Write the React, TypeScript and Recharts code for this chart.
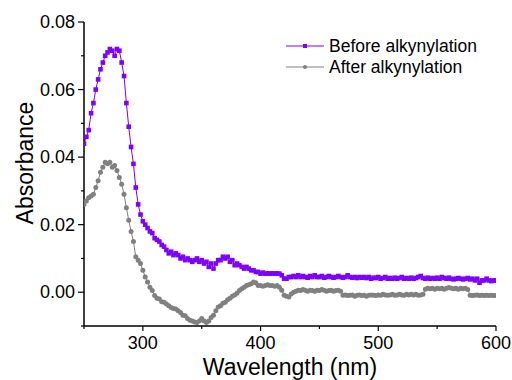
import { LineChart, Line, XAxis, YAxis, Legend, Label } from 'recharts';

// sampling grid of the spectra (nm)
const START_NM = 250;
const STEP_NM = 2;

// absorbance before alkynylation, 250..600 nm every 2 nm
const beforeAlkynylation = [
  0.044, 0.046, 0.048, 0.053, 0.056, 0.06, 0.063, 0.066, 0.068, 0.07,
  0.071, 0.072, 0.0715, 0.07, 0.072, 0.0715, 0.068, 0.064, 0.056, 0.049,
  0.043, 0.038, 0.031, 0.026, 0.023, 0.021, 0.02, 0.019, 0.018, 0.0175,
  0.016, 0.0155, 0.015, 0.014, 0.0135, 0.0125, 0.0115, 0.012, 0.011, 0.0115,
  0.011, 0.01, 0.0105, 0.0095, 0.01, 0.0095, 0.009, 0.0095, 0.01, 0.009,
  0.0095, 0.0085, 0.009, 0.0075, 0.0085, 0.007, 0.0085, 0.0095, 0.0095, 0.0105,
  0.01, 0.0105, 0.009, 0.0095, 0.008, 0.0085, 0.008, 0.0075, 0.007, 0.0075,
  0.007, 0.0065, 0.0065, 0.006, 0.006, 0.0055, 0.0058, 0.0055, 0.0056, 0.0055,
  0.0056, 0.0055, 0.0056, 0.0055, 0.005, 0.004, 0.004, 0.0045, 0.0045, 0.0048,
  0.0045, 0.005, 0.0045, 0.0048, 0.0045, 0.0043, 0.0048, 0.0045, 0.005, 0.0045,
  0.0045, 0.0048, 0.0043, 0.0045, 0.0048, 0.0045, 0.0043, 0.0045, 0.0048, 0.0045,
  0.0043, 0.0045, 0.005, 0.0045, 0.0043, 0.0045, 0.0042, 0.0045, 0.0043, 0.0045,
  0.0042, 0.0045, 0.004, 0.0043, 0.0042, 0.0045, 0.004, 0.0042, 0.0045, 0.004,
  0.0042, 0.004, 0.0043, 0.004, 0.0042, 0.0045, 0.004, 0.0042, 0.004, 0.0043,
  0.004, 0.0042, 0.0045, 0.0048, 0.0042, 0.004, 0.0043, 0.004, 0.0042, 0.004,
  0.0043, 0.004, 0.0045, 0.0042, 0.004, 0.0043, 0.004, 0.0038, 0.004, 0.0042,
  0.004, 0.0038, 0.004, 0.0042, 0.0038, 0.004, 0.0035, 0.004, 0.0028, 0.0035,
  0.0035, 0.004, 0.0035, 0.0033, 0.0035, 0.0035,
];

// absorbance after alkynylation, same grid
const afterAlkynylation = [
  0.026, 0.027, 0.028, 0.0285, 0.029, 0.031, 0.033, 0.0355, 0.037, 0.0385,
  0.038, 0.0385, 0.037, 0.0375, 0.036, 0.034, 0.032, 0.029, 0.025, 0.0213,
  0.018, 0.015, 0.0105, 0.0095, 0.0085, 0.0065, 0.0045, 0.003, 0.0015, 0.0005,
  -0.001, -0.0018, -0.002, -0.0028, -0.003, -0.0035, -0.004, -0.0045, -0.0048, -0.005,
  -0.0055, -0.006, -0.0068, -0.007, -0.0078, -0.0083, -0.0085, -0.0088, -0.009, -0.0085,
  -0.0078, -0.0085, -0.009, -0.0085, -0.0075, -0.0068, -0.0055, -0.0044, -0.004, -0.0033,
  -0.003, -0.0022, -0.0018, -0.0012, -0.0008, -0.0003, 0.0005, 0.001, 0.0015, 0.002,
  0.0022, 0.0025, 0.003, 0.0028, 0.002, 0.002, 0.0018, 0.002, 0.0022, 0.002,
  0.002, 0.0018, 0.002, 0.0015, 0.0006, -0.0009, -0.0012, -0.0014, -0.0005, 0,
  0.0003, 0.0006, 0.0005, 0.0008, 0.0006, 0.0003, 0.0006, 0.0005, 0.0003, 0.0006,
  0.0005, 0.0008, 0.0006, 0.0003, 0.0005, 0.0006, 0.0003, 0.0005, 0.0006, 0.0003,
  -0.0009, -0.0008, -0.001, -0.0009, -0.0008, -0.0012, -0.0009, -0.0008, -0.001, -0.0009,
  -0.0012, -0.0009, -0.0008, -0.0009, -0.001, -0.0008, -0.0009, -0.0006, -0.0008, -0.0009,
  -0.0008, -0.0006, -0.0009, -0.0008, -0.0006, -0.0008, -0.0009, -0.0006, -0.0008, -0.0006,
  -0.0008, -0.0006, -0.0009, -0.0008, -0.0006, 0.0009, 0.0012, 0.001, 0.0012, 0.0009,
  0.0012, 0.001, 0.0012, 0.0009, 0.0012, 0.0014, 0.0012, 0.001, 0.0012, 0.0009,
  0.0012, 0.001, 0.0012, 0.0008, -0.0009, -0.001, -0.0009, -0.0008, -0.001, -0.0009,
  -0.001, -0.0009, -0.001, -0.0009, -0.001, -0.001,
];

const wavelengths = beforeAlkynylation.map((_, i) => START_NM + STEP_NM * i);

const xTicks = [250, 300, 350, 400, 450, 500, 550, 600];
const yTicks = [-0.01, 0, 0.01, 0.02, 0.03, 0.04, 0.05, 0.06, 0.07, 0.08];

const seriesNames = ['Before alkynylation', 'After alkynylation'];

const data = wavelengths.map((nm, i) => ({
  nm,
  before: beforeAlkynylation[i],
  after: afterAlkynylation[i],
}));

const PURPLE = '#7f00ff';
const GRAY = '#808080';
const FONT = '"Liberation Sans", Arial, sans-serif';

const isMajorX = (v: number) => v % 100 === 0;
const isMajorY = (v: number) => Math.round(v * 100) % 2 === 0;

function BottomTick({ x, y, payload }: any) {
  const major = isMajorX(payload.value);
  return (
    <g>
      <line x1={x} y1={y} x2={x} y2={y + (major ? 5 : 3)} stroke="#000" strokeWidth={1.2} />
      {major && (
        <text x={x} y={y + 23} textAnchor="middle" fontSize={18} fontFamily={FONT} fill="#000">
          {payload.value}
        </text>
      )}
    </g>
  );
}

function LeftTick({ x, y, payload }: any) {
  const major = isMajorY(payload.value);
  return (
    <g>
      <line x1={x - (major ? 6 : 3)} y1={y} x2={x} y2={y} stroke="#000" strokeWidth={1.2} />
      {major && (
        <text x={x - 9} y={y + 6} textAnchor="end" fontSize={18} fontFamily={FONT} fill="#000">
          {payload.value.toFixed(2)}
        </text>
      )}
    </g>
  );
}

function TopTick({ x, y }: any) {
  return <line x1={x} y1={y} x2={x} y2={y + 3} stroke="#000" strokeWidth={1.2} />;
}

function RightTick({ x, y }: any) {
  return <line x1={x - 3} y1={y} x2={x} y2={y} stroke="#000" strokeWidth={1.2} />;
}

const renderSquare = (p: any) => (
  <rect key={`b-${p.index}`} x={p.cx - 2.3} y={p.cy - 2.3} width={4.6} height={4.6} fill={PURPLE} />
);

const renderCircle = (p: any) => (
  <circle key={`a-${p.index}`} cx={p.cx} cy={p.cy} r={2.5} fill={GRAY} />
);

function YTitle({ viewBox }: any) {
  const cx = viewBox.x + 33;
  const cy = 163;
  return (
    <text
      x={cx}
      y={cy}
      transform={`rotate(-90, ${cx}, ${cy})`}
      textAnchor="middle"
      fontSize={23}
      fontFamily={FONT}
      fill="#000"
    >
      Absorbance
    </text>
  );
}

function XTitle({ viewBox }: any) {
  return (
    <text
      x={viewBox.x + viewBox.width / 2}
      y={viewBox.y + 49}
      textAnchor="middle"
      fontSize={23}
      fontFamily={FONT}
      fill="#000"
    >
      Wavelength (nm)
    </text>
  );
}

function ChartLegend() {
  const rows = [
    { name: seriesNames[0], color: PURPLE, square: true },
    { name: seriesNames[1], color: GRAY, square: false },
  ];
  return (
    <svg width={200} height={50}>
      {rows.map((r, i) => {
        const cy = 16 + i * 21;
        return (
          <g key={r.name}>
            <line x1={6} y1={cy} x2={44} y2={cy} stroke={r.color} strokeWidth={1} />
            {r.square ? (
              <rect x={23} y={cy - 2} width={4} height={4} fill={r.color} />
            ) : (
              <circle cx={25} cy={cy} r={2.1} fill={r.color} />
            )}
            <text x={49} y={cy + 6} fontSize={17.5} fontFamily={FONT} fill="#000">
              {r.name}
            </text>
          </g>
        );
      })}
    </svg>
  );
}

export default function App() {
  return (
    <div style={{ position: 'absolute', left: 0, top: 0, width: 512, height: 380, background: '#fff' }}>
      <LineChart width={512} height={380} data={data} margin={{ top: 22, right: 16, bottom: 0, left: 0 }}>
        <XAxis
          dataKey="nm"
          type="number"
          domain={[250, 600]}
          ticks={xTicks}
          height={54}
          tickSize={0}
          tickMargin={0}
          tickLine={false}
          tick={<BottomTick />}
          axisLine={{ stroke: '#000', strokeWidth: 1.5 }}
          interval={0}
          allowDataOverflow
        >
          <Label content={<XTitle />} />
        </XAxis>
        <XAxis
          xAxisId="top"
          orientation="top"
          dataKey="nm"
          type="number"
          domain={[250, 600]}
          ticks={xTicks}
          height={0}
          tickSize={0}
          tickMargin={0}
          tickLine={false}
          tick={<TopTick />}
          axisLine={{ stroke: '#000', strokeWidth: 1.5 }}
          interval={0}
          allowDataOverflow
        />
        <YAxis
          type="number"
          domain={[-0.01, 0.08]}
          ticks={yTicks}
          width={84}
          tickSize={0}
          tickMargin={0}
          tickLine={false}
          tick={<LeftTick />}
          axisLine={{ stroke: '#000', strokeWidth: 1.5 }}
          interval={0}
          allowDataOverflow
        >
          <Label content={<YTitle />} />
        </YAxis>
        <YAxis
          yAxisId="right"
          orientation="right"
          type="number"
          domain={[-0.01, 0.08]}
          ticks={yTicks}
          width={0}
          tickSize={0}
          tickMargin={0}
          tickLine={false}
          tick={<RightTick />}
          axisLine={{ stroke: '#000', strokeWidth: 1.5 }}
          interval={0}
          allowDataOverflow
        />
        <Legend
          layout="vertical"
          align="center"
          verticalAlign="middle"
          content={<ChartLegend />}
          wrapperStyle={{ position: 'absolute', left: 280, top: 30, width: 200, height: 50 }}
        />
        <Line
          type="linear"
          dataKey="after"
          name={seriesNames[1]}
          stroke={GRAY}
          strokeWidth={1}
          dot={renderCircle}
          isAnimationActive={false}
        />
        <Line
          type="linear"
          dataKey="before"
          name={seriesNames[0]}
          stroke={PURPLE}
          strokeWidth={1}
          dot={renderSquare}
          isAnimationActive={false}
        />
      </LineChart>
    </div>
  );
}
